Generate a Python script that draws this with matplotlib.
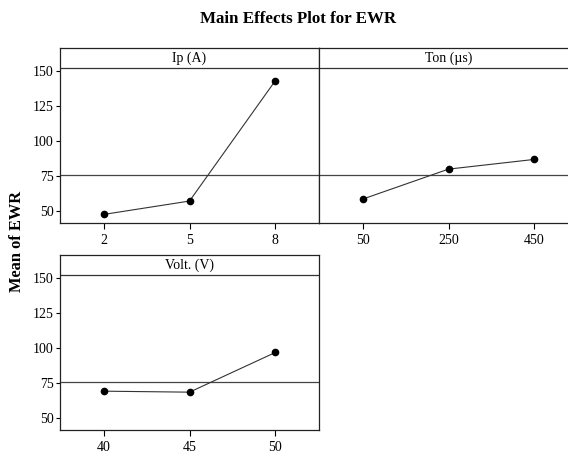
import matplotlib
matplotlib.use("Agg")
import matplotlib.pyplot as plt

# Data
ip_levels = ["2", "5", "8"]
ip_means = [47.9, 57.4, 142.9]

ton_levels = ["50", "250", "450"]
ton_means = [58.8, 80.1, 87.0]

volt_levels = ["40", "45", "50"]
volt_means = [69.4, 68.7, 96.9]

grand_mean = 76.0
yticks = [50, 75, 100, 125, 150]

plt.rcParams['font.family'] = ['Liberation Serif', 'DejaVu Serif']

W, H = 568, 451
fig = plt.figure(figsize=(W / 100, H / 100), dpi=100)

def box(l, t, r, b):
    return [l / W, 1 - b / H, (r - l) / W, (b - t) / H]

panels = [
    (box(60, 48, 319, 223), "Ip (A)", ip_levels, ip_means, True),
    (box(319, 48, 578, 223), "Ton (µs)", ton_levels, ton_means, False),
    (box(60, 255, 319, 430), "Volt. (V)", volt_levels, volt_means, True),
]

for rect, name, levels, means, show_y in panels:
    ax = fig.add_axes(rect)
    x = list(range(len(levels)))
    ax.axhline(grand_mean, color="#444444", lw=0.9, zorder=1)
    ax.plot(x, means, color="#333333", lw=0.8, zorder=2)
    ax.plot(x, means, "o", color="black", ms=4.5, zorder=3)
    ax.set_xlim(-0.51, 2.51)
    ax.set_ylim(41.8, 166.2)
    # strip with factor name
    ax.axhline(152.2, color="#333333", lw=0.9)
    ax.text(1.0, 158.6, name, ha="center", va="center", fontsize=10)
    ax.set_xticks(x)
    ax.set_xticklabels(levels, fontsize=10)
    ax.set_yticks(yticks)
    if show_y:
        ax.set_yticklabels([str(v) for v in yticks], fontsize=10)
        ax.tick_params(axis="y", length=3, width=0.8, pad=1.5)
    else:
        ax.tick_params(axis="y", left=False, labelleft=False)
    ax.tick_params(axis="x", length=4, width=0.8, pad=4)
    for s in ax.spines.values():
        s.set_linewidth(0.9)
        s.set_color("#222222")

fig.text(298.5 / W, 1 - 19 / H, "Main Effects Plot for EWR", ha="center", va="center",
         fontsize=12.2, fontweight="bold")
fig.text(17 / W, 1 - 241 / H, "Mean of EWR", ha="center", va="center", rotation=90,
         fontsize=11.8, fontweight="bold")

fig.savefig("out.png", dpi=100)
